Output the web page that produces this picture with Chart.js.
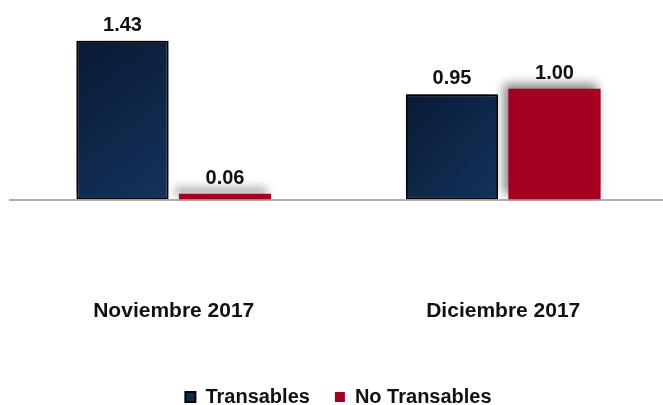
<!DOCTYPE html>
<html>
<head>
<meta charset="utf-8">
<script src="https://cdn.jsdelivr.net/npm/chart.js@4/dist/chart.umd.min.js"></script>
<style>
  html, body { margin: 0; padding: 0; background: #fff; overflow: hidden; }
  #wrap { width: 672px; height: 405px; margin-left: -3px; }
</style>
</head>
<body>
<div id="wrap"><canvas id="chart"></canvas></div>
<script>
const categories = ['Noviembre 2017', 'Diciembre 2017'];
const seriesNames = ['Transables', 'No Transables'];
const transables = [1.43, 0.95];
const noTransables = [0.06, 1.00];

const FONT = "'Liberation Sans', Arial, sans-serif";

// per-bar diagonal gradient for the navy bars
function navyFill(context) {
    const chart = context.chart;
    if (!chart.chartArea || context.raw === undefined) return '#0f2a50';
    const xs = chart.scales.x, ys = chart.scales.y;
    const cx = xs.getPixelForValue(context.dataIndex);
    const top = ys.getPixelForValue(context.raw);
    const bottom = ys.getPixelForValue(0);
    const g = chart.ctx.createLinearGradient(cx - 120, top, cx, bottom);
    g.addColorStop(0, '#08182f');
    g.addColorStop(1, '#14335f');
    return g;
}

const barShadow = {
    id: 'barShadow',
    beforeDatasetsDraw(chart) {
        const ctx = chart.ctx;
        ctx.save();
        ctx.shadowColor = 'rgba(0,0,0,0.5)';
        ctx.shadowBlur = 10;
        ctx.shadowOffsetX = -4;
        ctx.shadowOffsetY = -5;
    },
    afterDatasetsDraw(chart) {
        chart.ctx.restore();
    }
};

const valueLabels = {
    id: 'valueLabels',
    afterDraw(chart) {
        const ctx = chart.ctx;
        ctx.save();
        ctx.font = 'bold 20px ' + FONT;
        ctx.fillStyle = '#111';
        ctx.textAlign = 'center';
        ctx.textBaseline = 'alphabetic';
        chart.data.datasets.forEach((ds, i) => {
            chart.getDatasetMeta(i).data.forEach((bar, j) => {
                ctx.fillText(ds.data[j].toFixed(2), bar.x, bar.y - 10);
            });
        });
        ctx.restore();
    }
};

new Chart(document.getElementById('chart'), {
    type: 'bar',
    data: {
        labels: categories,
        datasets: [
            {
                label: seriesNames[0],
                data: transables,
                backgroundColor: navyFill,
                borderColor: '#000',
                borderWidth: 2,
                borderSkipped: false
            },
            {
                label: seriesNames[1],
                data: noTransables,
                backgroundColor: '#a50021',
                borderWidth: 0
            }
        ]
    },
    options: {
        responsive: true,
        maintainAspectRatio: false,
        animation: false,
        categoryPercentage: 0.622,
        barPercentage: 0.9,
        layout: { padding: { top: 33, left: 12, right: 1, bottom: -12 } },
        plugins: {
            tooltip: { enabled: false },
            legend: {
                position: 'bottom',
                labels: {
                    boxWidth: 10,
                    boxHeight: 10,
                    padding: 25,
                    color: '#111',
                    font: { family: FONT, size: 20, weight: 'bold' },
                    generateLabels(chart) {
                        const items = Chart.defaults.plugins.legend.labels.generateLabels(chart);
                        items[0].fillStyle = '#102b52';
                        items[0].strokeStyle = '#000';
                        items[0].lineWidth = 2;
                        items[1].lineWidth = 0;
                        return items;
                    }
                }
            }
        },
        scales: {
            x: {
                grid: { display: false },
                border: { display: false },
                ticks: {
                    color: '#111',
                    padding: -5,
                    font: { family: FONT, size: 21, weight: 'bold' }
                },
                afterFit(scale) { scale.height = 66; }
            },
            y: {
                min: -0.857,
                max: 1.5,
                border: { display: false },
                ticks: { display: false },
                grid: { color: '#b0b0b0', lineWidth: 2, drawTicks: false },
                afterBuildTicks(scale) { scale.ticks = [{ value: 0 }]; },
                afterFit(scale) { scale.width = 0; }
            }
        }
    },
    plugins: [barShadow, valueLabels]
});
</script>
</body>
</html>
